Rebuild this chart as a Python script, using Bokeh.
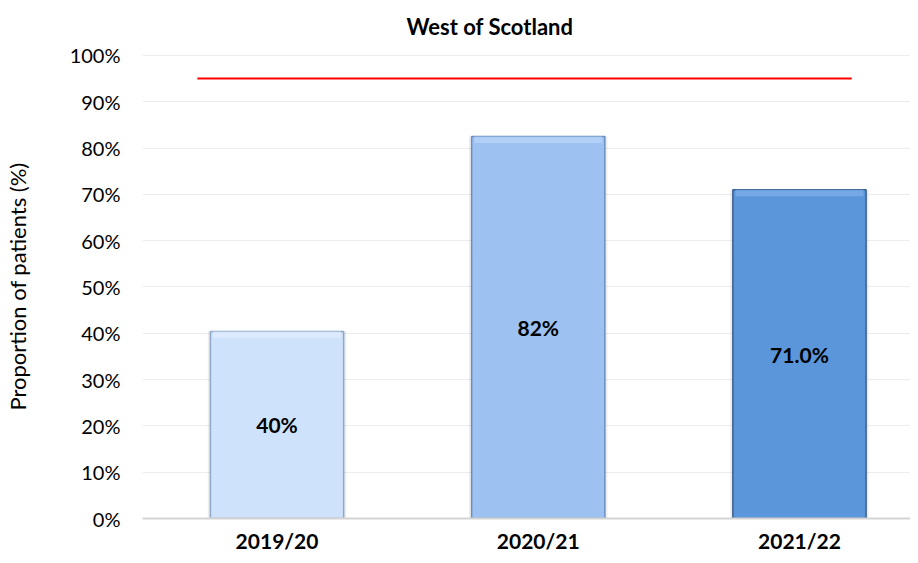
from bokeh.plotting import figure
from bokeh.models import ColumnDataSource, FixedTicker, Range1d, NumeralTickFormatter
from bokeh.embed import file_html
from bokeh.resources import INLINE
from bokeh.core.properties import value

# ---- data ----
years = ["2019/20", "2020/21", "2021/22"]
proportions = [40.4, 82.5, 71.0]
value_labels = ["40%", "82%", "71.0%"]
bar_colors = ["#CFE2FB", "#9DC1F0", "#5B96DB"]
edge_colors = ["#8FA8C8", "#6A8FC0", "#3A5E8C"]
highlight_colors = ["#E2EEFD", "#BAD4F6", "#80B0E9"]
target_value = 95
target_span = [-0.305, 2.2]
y_ticks = [0, 10, 20, 30, 40, 50, 60, 70, 80, 90, 100]
bevel = 1.4  # depth of the bar's top bevel, in % units
chart_title = "West of Scotland"

xs = list(range(len(years)))
src = ColumnDataSource(dict(
    x=xs, top=proportions, mid=[v / 2 for v in proportions],
    bev=[v - bevel for v in proportions],
    label=value_labels, color=bar_colors, edge=edge_colors, hi=highlight_colors,
))

FONT = "Lato"

p = figure(width=910, height=555, output_backend="svg", toolbar_location=None,
           x_range=Range1d(-0.515, 2.425), y_range=Range1d(0, 100.2),
           min_border_left=137, min_border_right=0, min_border_top=54, min_border_bottom=10)

p.title.text = chart_title
p.title.align = "left"
p.title.vertical_align = "top"
p.title.text_font = FONT
p.title.text_font_size = "22px"
p.title.text_font_style = "bold"
p.title.text_color = "#000000"
p.title.offset = 264
p.title.standoff = 25

p.outline_line_color = None
p.background_fill_color = "white"
p.border_fill_color = "white"

# bars with a subtle shadow and a top bevel highlight
p.vbar(x="x", top="top", width=0.53, source=src, fill_color="#000000", fill_alpha=0.07,
       line_color=None)
p.vbar(x="x", top="top", width=0.51, source=src, fill_color="color",
       line_color="edge", line_width=1.5)
p.vbar(x="x", top="top", bottom="bev", width=0.49, source=src, fill_color="hi",
       fill_alpha=0.7, line_color=None)

p.text(x="x", y="mid", text="label", source=src, text_align="center", text_baseline="middle",
       text_font=value(FONT), text_font_size="21px", text_font_style="bold", text_color="#000000")

# target line
p.segment(x0=[target_span[0]], x1=[target_span[1]], y0=[target_value], y1=[target_value],
          line_color="#FF0000", line_width=2)

# axes
p.xaxis.ticker = FixedTicker(ticks=xs)
p.xaxis.major_label_overrides = {i: y for i, y in enumerate(years)}
p.xaxis.major_label_text_font = FONT
p.xaxis.major_label_text_font_size = "21px"
p.xaxis.major_label_text_font_style = "bold"
p.xaxis.major_label_text_color = "#000000"
p.xaxis.major_label_standoff = 9
p.xaxis.major_tick_out = 0
p.xaxis.major_tick_in = 0
p.xaxis.minor_tick_out = 0
p.xaxis.minor_tick_in = 0
p.xaxis.major_tick_line_color = None
p.xaxis.minor_tick_line_color = None
p.xaxis.axis_line_color = "#D4D4D4"
p.xaxis.axis_line_width = 2

p.yaxis.ticker = FixedTicker(ticks=y_ticks)
p.yaxis.formatter = NumeralTickFormatter(format="0")
p.yaxis.major_label_overrides = {t: f"{t}%" for t in y_ticks}
p.yaxis.major_label_text_font = FONT
p.yaxis.major_label_text_font_size = "20px"
p.yaxis.major_label_text_color = "#000000"
p.yaxis.major_label_standoff = 22
p.yaxis.major_tick_out = 0
p.yaxis.major_tick_in = 0
p.yaxis.minor_tick_out = 0
p.yaxis.minor_tick_in = 0
p.yaxis.major_tick_line_color = None
p.yaxis.minor_tick_line_color = None
p.yaxis.axis_line_color = None
p.yaxis.axis_label = "Proportion of patients (%)"
p.yaxis.axis_label_text_font = FONT
p.yaxis.axis_label_text_font_size = "22px"
p.yaxis.axis_label_text_font_style = "normal"
p.yaxis.axis_label_text_color = "#000000"
p.yaxis.axis_label_standoff = 36

p.xgrid.grid_line_color = None
p.ygrid.grid_line_color = "#EDEDED"
p.ygrid.grid_line_width = 1

open("out.html", "w").write(file_html(p, INLINE))
